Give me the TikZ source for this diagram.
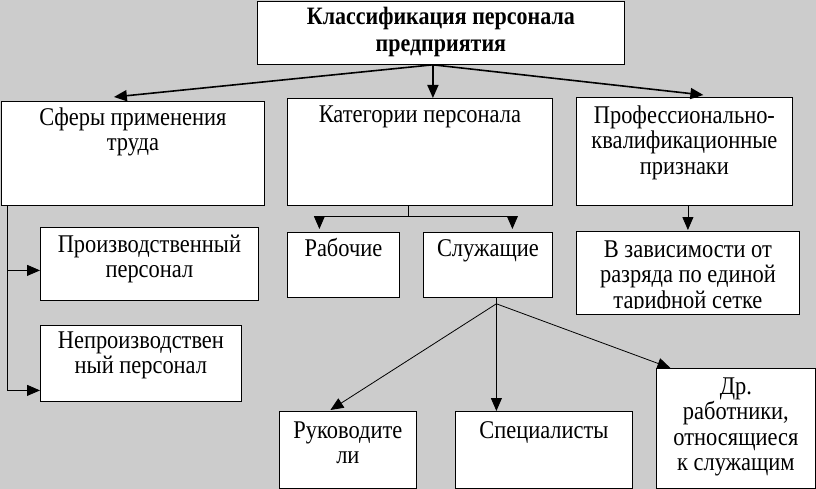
\documentclass[tikz,border=0pt]{standalone}
\usepackage{fontspec}
\setmainfont{Liberation Serif}[FakeStretch=0.88]
\usetikzlibrary{arrows.meta,calc}

\definecolor{bggray}{RGB}{204,204,204}
% box text: [top pad]{width}{height}{text}
\newcommand{\boxtxt}[4][24pt]{\parbox[c][#3][t]{#2}{\centering\rule{0pt}{#1}#4}}

\begin{document}
\begin{tikzpicture}[x=1pt,y=-1pt,
    box/.style={draw,fill=white,line width=0.8pt,inner sep=0pt,anchor=north west,
        font=\fontsize{25.5}{25.5}\selectfont},
    arr/.style={-{Triangle[length=13pt,width=11pt]},line width=0.8pt},
    arrthick/.style={arr,line width=1.6pt}]
\useasboundingbox (0,0) rectangle (816,489);
\fill[bggray] (0,0) rectangle (816,489);

%%   kw   (name)   (x, y)   {text}
    \node[box,font=\fontsize{25}{27}\selectfont\bfseries] (top) at (257,1) {\boxtxt[23pt]{367pt}{63pt}{Классификация персонала\\предприятия}};
    \node[box] (sfery) at (1,101) {\boxtxt{263pt}{104pt}{Сферы применения\\труда}};
    \node[box] (kat) at (287,98) {\boxtxt{265pt}{107pt}{Категории персонала}};
    \node[box] (prof) at (576,97) {\boxtxt[26pt]{216pt}{108pt}{Профессионально-\\квалификационные\\признаки}};
    \node[box] (proizv) at (40,227) {\boxtxt[25pt]{218pt}{73pt}{Производственный\\персонал}};
    \node[box] (neproizv) at (40,325) {\boxtxt[23pt]{201pt}{76pt}{Непроизводствен\\ный персонал}};
    \node[box] (rab) at (287,232) {\boxtxt{112pt}{65pt}{Рабочие}};
    \node[box] (sluzh) at (423,232) {\boxtxt{129pt}{65pt}{Служащие}};
    \node[box] (vzav) at (576,231) {\boxtxt{223pt}{83pt}{}};
    \begin{scope}
    \clip (vzav.north west) rectangle ($(vzav.south east)+(0,-6)$);
    \node[box,draw=none,fill=none] (vzavtext) at (vzav.north west) {\boxtxt[26pt]{223pt}{83pt}{В зависимости от\\разряда по единой\\тарифной сетке}};
    \end{scope}
    \node[box] (ruk) at (279,411) {\boxtxt[27pt]{137pt}{77pt}{Руководите\\ли}};
    \node[box] (spec) at (455,411) {\boxtxt[27pt]{177pt}{77pt}{Специалисты}};
    \node[box] (dr) at (656,368) {\boxtxt[26pt]{159pt}{120pt}{Др.\\работники,\\относящиеся\\к служащим}};

    % from the top box
    \coordinate (hub) at ($(top.south)+(-8,0)$);
    \draw[arrthick] (hub) -- ($(sfery.north)+(-19,-4)$);
    \draw[arrthick] (hub) -- (hub |- kat.north);
    \draw[arrthick] (hub) -- ($(prof.north)+(19,-2)$);

    % spheres
    \coordinate (lb) at ($(sfery.south west)+(6,0)$);
    \draw[arr] (lb) |- ($(proizv.west)+(0,6.5)$);
    \draw[arr] (lb) |- ($(neproizv.west)+(0,27)$);

    % categories
    \coordinate (kfork) at ($(kat.south)+(-11.5,11)$);
    \draw[line width=0.8pt] (kat.south -| kfork) -- (kfork);
    \draw[arr] (kfork) -| ($(rab.north)+(-24,-3)$);
    \draw[arr] (kfork) -| ($(sluzh.north)+(24.5,-3)$);

    % qualification
    \draw[arr] (vzav.north |- prof.south) -- ($(vzav.north)+(0,-1)$);

    % employees
    \coordinate (sfork) at ($(sluzh.south)+(8.5,6)$);
    \draw[line width=0.8pt] (sluzh.south -| sfork) -- (sfork);
    \draw[arr] (sfork) -- ($(ruk.north)+(-17.5,-1)$);
    \draw[arr] (sfork) -- (spec.north -| sfork);
    \draw[arr] (sfork) -- ($(dr.north)+(-65.5,0)$);
\end{tikzpicture}
\end{document}
